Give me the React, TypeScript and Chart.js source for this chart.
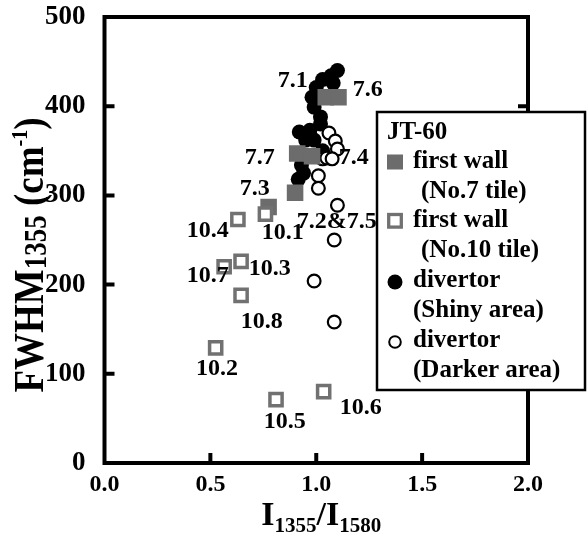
import React, { useEffect, useRef } from "react";
import { Chart, registerables } from "chart.js";

Chart.register(...registerables);

// ---- axis ticks ----
const xTicks = [0, 0.5, 1.0, 1.5, 2.0];
const yTicks = [0, 100, 200, 300, 400, 500];

// ---- series: first wall (No.7 tile), filled grey squares ----
const no7X = [1.045, 1.105, 0.91, 0.98, 0.9, 0.775];
const no7Y = [410, 410, 347, 344, 303, 287];

// ---- series: first wall (No.10 tile), open grey squares ----
const no10X = [0.76, 0.63, 0.565, 0.645, 0.645, 0.525, 0.81, 1.035];
const no10Y = [279, 273, 220, 226, 188, 129, 71, 80];

// ---- series: divertor (Shiny area), filled black circles ----
const shinyX = [1.1, 1.07, 1.03, 1.08, 1.0, 0.98, 0.99, 1.02, 0.92, 0.97, 1.02, 0.99, 0.95, 1.03, 0.94, 0.915, 0.93];
const shinyY = [440, 434, 430, 426, 421, 410, 399, 388, 371, 373, 380, 362, 362, 350, 325, 318, 334];

// ---- series: divertor (Darker area), open black circles ----
const darkerX = [1.06, 1.09, 1.1, 1.03, 1.05, 1.075, 1.01, 1.01, 1.1, 1.085, 0.99, 1.085];
const darkerY = [370, 361, 352, 341, 342, 341, 322, 308, 289, 250, 204, 158];

// ---- point annotations ----
const labelTexts = ["7.1", "7.6", "7.7", "7.4", "7.3", "7.2&7.5", "10.1", "10.4", "10.7", "10.3", "10.8", "10.2", "10.5", "10.6"];
const labelX = [0.889, 1.243, 0.733, 1.177, 0.71, 1.097, 0.842, 0.488, 0.488, 0.78, 0.743, 0.531, 0.851, 1.21];
const labelY = [429, 418, 342, 342, 307, 270, 258, 260, 210, 218, 158, 106, 46, 62];

// ---- legend ----
const legendTitle = "JT-60";
const legendLine1 = ["first wall", "first wall", "divertor", "divertor"];
const legendLine2 = ["(No.7 tile)", "(No.10 tile)", "(Shiny area)", "(Darker area)"];

const SERIF = "'Liberation Serif', 'Times New Roman', serif";
const GREY = "#6c6c6c";
const GREY_OPEN = "#717171";

const pts = (xs: number[], ys: number[]) => xs.map((x, i) => ({ x, y: ys[i] }));

const framePlugin = {
  id: "frame",
  beforeDatasetsDraw(chart: any) {
    const { ctx, chartArea, scales } = chart;
    const { left, right, top, bottom } = chartArea;
    ctx.save();
    ctx.strokeStyle = "#000";
    ctx.lineWidth = 4;
    ctx.lineCap = "butt";
    ctx.strokeRect(left, top, right - left, bottom - top);
    const len = 10;
    xTicks.slice(1, -1).forEach((v) => {
      const px = scales.x.getPixelForValue(v);
      ctx.beginPath();
      ctx.moveTo(px, bottom);
      ctx.lineTo(px, bottom - len);
      ctx.stroke();
    });
    yTicks.slice(1, -1).forEach((v) => {
      const py = scales.y.getPixelForValue(v);
      ctx.beginPath();
      ctx.moveTo(left, py);
      ctx.lineTo(left + len, py);
      ctx.moveTo(right, py);
      ctx.lineTo(right - len, py);
      ctx.stroke();
    });
    ctx.restore();
  },
};

const labelPlugin = {
  id: "pointLabels",
  afterDatasetsDraw(chart: any) {
    const { ctx, scales } = chart;
    ctx.save();
    ctx.fillStyle = "#000";
    ctx.font = `bold 24px ${SERIF}`;
    ctx.textAlign = "center";
    ctx.textBaseline = "middle";
    labelTexts.forEach((t, i) => {
      ctx.fillText(t, scales.x.getPixelForValue(labelX[i]), scales.y.getPixelForValue(labelY[i]));
    });
    ctx.restore();
  },
};

type Seg = { t: string; size: number; dy: number };
function drawRich(ctx: CanvasRenderingContext2D, segs: Seg[], cx: number, baseline: number) {
  let total = 0;
  segs.forEach((s) => {
    ctx.font = `bold ${s.size}px ${SERIF}`;
    total += ctx.measureText(s.t).width;
  });
  let x = cx - total / 2;
  segs.forEach((s) => {
    ctx.font = `bold ${s.size}px ${SERIF}`;
    ctx.fillText(s.t, x, baseline + s.dy);
    x += ctx.measureText(s.t).width;
  });
}

const titlePlugin = {
  id: "axisTitles",
  afterDraw(chart: any) {
    const { ctx, chartArea } = chart;
    const { left, right, top, bottom } = chartArea;
    ctx.save();
    ctx.fillStyle = "#000";
    ctx.textAlign = "left";
    ctx.textBaseline = "alphabetic";
    drawRich(
      ctx,
      [
        { t: "I", size: 34, dy: 0 },
        { t: "1355", size: 21, dy: 7 },
        { t: "/I", size: 34, dy: 0 },
        { t: "1580", size: 21, dy: 7 },
      ],
      (left + right) / 2 + 5,
      bottom + 62
    );
    ctx.translate(43, (top + bottom) / 2 + 15);
    ctx.rotate(-Math.PI / 2);
    ctx.scale(1, 1.15);
    drawRich(
      ctx,
      [
        { t: "FWHM", size: 37, dy: 0 },
        { t: "1355", size: 27, dy: 3 },
        { t: " (cm", size: 37, dy: 0 },
        { t: "-1", size: 20, dy: -14 },
        { t: ")", size: 37, dy: 0 },
      ],
      0,
      0
    );
    ctx.restore();
  },
};

const legendPlugin = {
  id: "boxLegend",
  afterDraw(chart: any) {
    const { ctx } = chart;
    const bx = 377, by = 112, bw = 208, bh = 278;
    ctx.save();
    ctx.fillStyle = "#fff";
    ctx.fillRect(bx, by, bw, bh);
    ctx.strokeStyle = "#000";
    ctx.lineWidth = 2.5;
    ctx.strokeRect(bx, by, bw, bh);
    ctx.fillStyle = "#000";
    ctx.font = `bold 25px ${SERIF}`;
    ctx.textAlign = "left";
    ctx.textBaseline = "alphabetic";
    ctx.fillText(legendTitle, 387, 139);
    const rowBase = [168, 227, 287, 347];
    const indent = [421, 421, 413, 413];
    rowBase.forEach((b, i) => {
      ctx.fillStyle = "#000";
      ctx.fillText(legendLine1[i], 413, b);
      ctx.fillText(legendLine2[i], indent[i], b + 29.5);
      const cy = b - 6;
      if (i === 0) {
        ctx.fillStyle = GREY;
        ctx.fillRect(387, cy - 7.5, 16, 15);
      } else if (i === 1) {
        ctx.strokeStyle = GREY_OPEN;
        ctx.lineWidth = 3.3;
        ctx.fillStyle = "#fff";
        ctx.fillRect(388.7, cy - 6.5, 12.6, 12.6);
        ctx.strokeRect(388.7, cy - 6.5, 12.6, 12.6);
      } else if (i === 2) {
        ctx.fillStyle = "#000";
        ctx.beginPath();
        ctx.arc(395, cy + 1, 7.5, 0, Math.PI * 2);
        ctx.fill();
      } else {
        ctx.strokeStyle = "#000";
        ctx.lineWidth = 2;
        ctx.beginPath();
        ctx.arc(395, cy + 1, 5.8, 0, Math.PI * 2);
        ctx.stroke();
      }
    });
    ctx.restore();
  },
};

export default function App() {
  const ref = useRef<HTMLCanvasElement>(null);
  useEffect(() => {
    const canvas = ref.current;
    if (!canvas) return;
    const chart = new Chart(canvas, {
      type: "scatter",
      data: {
        datasets: [
          {
            label: "first wall (No.10 tile)",
            data: pts(no10X, no10Y),
            pointStyle: "rect",
            pointRadius: 8.6,
            backgroundColor: "#fff",
            borderColor: GREY_OPEN,
            borderWidth: 3.5,
            order: 0,
          },
          {
            label: "first wall (No.7 tile)",
            data: pts(no7X, no7Y),
            pointStyle: "rect",
            pointRadius: 11.7,
            backgroundColor: GREY,
            borderColor: GREY,
            borderWidth: 0,
            order: 1,
          },
          {
            label: "divertor (Darker area)",
            data: pts(darkerX, darkerY),
            pointStyle: "circle",
            pointRadius: 6.4,
            backgroundColor: "#fff",
            borderColor: "#000",
            borderWidth: 2.2,
            order: 2,
          },
          {
            label: "divertor (Shiny area)",
            data: pts(shinyX, shinyY),
            pointStyle: "circle",
            pointRadius: 7.5,
            backgroundColor: "#000",
            borderColor: "#000",
            borderWidth: 0,
            order: 3,
          },
        ],
      },
      options: {
        responsive: false,
        animation: false,
        devicePixelRatio: 1,
        layout: { padding: { left: 0, top: 17, right: 60, bottom: 0 } },
        plugins: { legend: { display: false }, tooltip: { enabled: false } },
        scales: {
          x: {
            type: "linear",
            min: 0,
            max: 2,
            afterBuildTicks: (s: any) => {
              s.ticks = xTicks.map((v) => ({ value: v }));
            },
            afterFit: (s: any) => {
              s.height = 74;
              s.paddingLeft = 0;
              s.paddingRight = 0;
            },
            grid: { display: false, drawTicks: false },
            border: { display: false },
            ticks: {
              color: "#000",
              font: { family: SERIF, weight: "bold", size: 24 },
              padding: 7,
              maxRotation: 0,
              autoSkip: false,
              callback: (v: any) => Number(v).toFixed(1),
            },
          },
          y: {
            type: "linear",
            min: 0,
            max: 500,
            afterBuildTicks: (s: any) => {
              s.ticks = yTicks.map((v) => ({ value: v }));
            },
            afterFit: (s: any) => {
              s.width = 104.5;
              s.paddingTop = 0;
              s.paddingBottom = 0;
            },
            grid: { display: false, drawTicks: false },
            border: { display: false },
            ticks: {
              color: "#000",
              font: { family: SERIF, weight: "bold", size: 27 },
              padding: 19,
              callback: (v: any) => String(v),
            },
          },
        },
      },
      plugins: [framePlugin, labelPlugin, titlePlugin, legendPlugin],
    });
    return () => chart.destroy();
  }, []);
  return (
    <div style={{ position: "fixed", left: 0, top: 0, width: 588, height: 537, background: "#fff" }}>
      <canvas ref={ref} width={588} height={537} style={{ display: "block", width: 588, height: 537 }} />
    </div>
  );
}
